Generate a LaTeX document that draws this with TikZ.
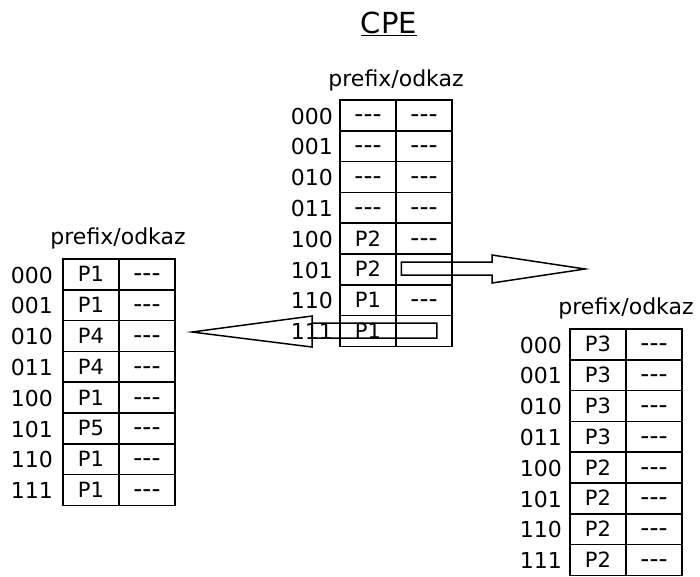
\documentclass[tikz,border=0pt]{standalone}
\usepackage{fontspec}
\setmainfont{DejaVu Sans}
\usetikzlibrary{calc}

\newcommand{\nic}{{\fontsize{25}{25}\selectfont -{}-{}-}}

\tikzset{
  cell/.style={draw, line width=1.5pt, minimum width=56pt, minimum height=30.8pt, inner sep=0pt, text height=15pt, text depth=0pt, font=\fontsize{21}{21}\selectfont},
  rowlabel/.style={anchor=east, inner sep=0pt, font=\fontsize{22}{22}\selectfont},
  header/.style={inner sep=0pt, font=\fontsize{22}{22}\selectfont},
  blockarrow/.style={draw, line width=1.5pt, line join=miter}
}

\begin{document}
\begin{tikzpicture}[x=1pt,y=-1pt]
  \useasboundingbox (0,0) rectangle (700,576);

  \node[inner sep=0pt, anchor=base, font=\fontsize{29}{29}\selectfont] (title) at (389,33) {\underline{CPE}};

  % stredni tabulka
  \node[header] (ch) at (396,80) {prefix/odkaz};
  \foreach \i/\b/\p/\o in {0/000/\nic/\nic,1/001/\nic/\nic,2/010/\nic/\nic,3/011/\nic/\nic,4/100/P2/\nic,5/101/P2/,6/110/P1/\nic,7/111/P1/}
  {
    \node[cell] (c\i p) at (368, 115.4+30.8*\i) {\p};
    \node[cell] (c\i o) at (424, 115.4+30.8*\i) {\o};
    \node[rowlabel] (c\i b) at (333, 116+30.8*\i) {\b};
  }

  % leva tabulka
  \node[header] (lh) at (118,238) {prefix/odkaz};
  \foreach \i/\b/\p in {0/000/P1,1/001/P1,2/010/P4,3/011/P4,4/100/P1,5/101/P5,6/110/P1,7/111/P1}
  {
    \node[cell] (l\i p) at (91, 274.4+30.8*\i) {\p};
    \node[cell] (l\i o) at (147, 274.4+30.8*\i) {\nic};
    \node[rowlabel] (l\i b) at (53, 275+30.8*\i) {\b};
  }

  % prava tabulka
  \node[header] (rh) at (626,308) {prefix/odkaz};
  \foreach \i/\b/\p in {0/000/P3,1/001/P3,2/010/P3,3/011/P3,4/100/P2,5/101/P2,6/110/P2,7/111/P2}
  {
    \node[cell] (r\i p) at (598, 344.4+30.8*\i) {\p};
    \node[cell] (r\i o) at (654, 344.4+30.8*\i) {\nic};
    \node[rowlabel] (r\i b) at (562, 345+30.8*\i) {\b};
  }

  % odkazy
  \coordinate (rtip) at (585,269);
  \coordinate (ltip) at (192,332);
  \draw[blockarrow] (rtip) -- ++(-93,-14) -- ++(0,7) -| ($(c5o.west)+(6,0)$) |- ($(rtip)+(-93,6)$) -- ++(0,8) -- cycle;
  \draw[blockarrow] (ltip) -- ++(120,-16) -- ++(0,7) -| ($(c7o.east)+(-16,0)$) |- ($(ltip)+(120,6)$) -- ++(0,9) -- cycle;
\end{tikzpicture}
\end{document}
